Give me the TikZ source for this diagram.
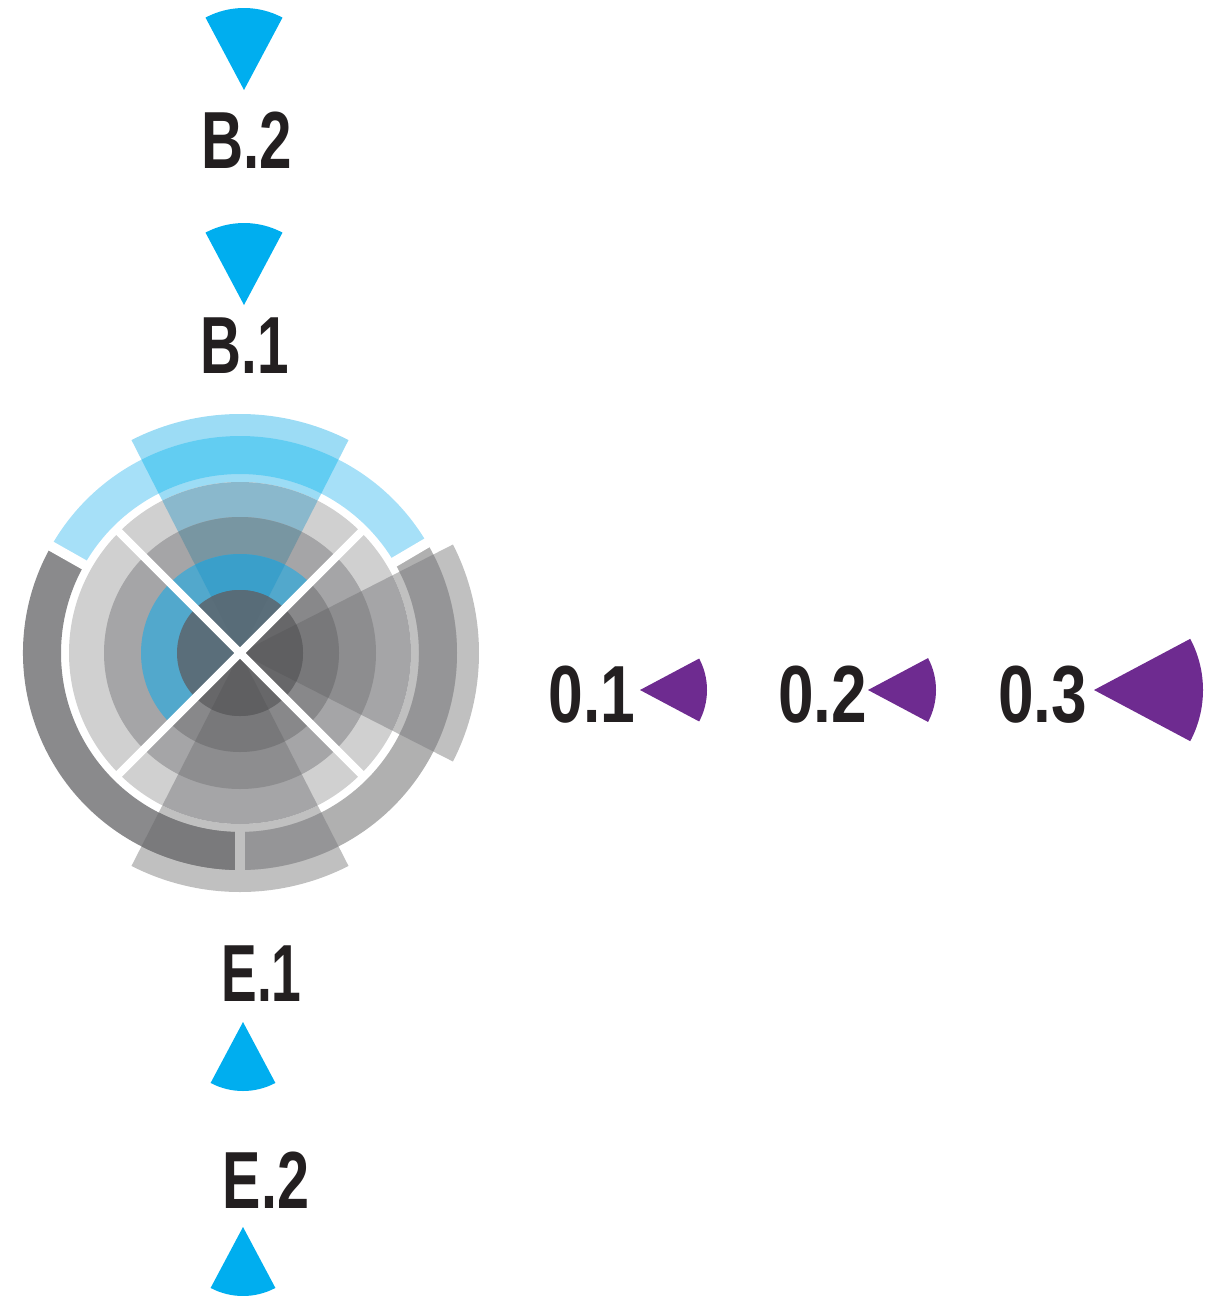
\documentclass[tikz,border=0pt]{standalone}
\usepackage{fontspec}
\setmainfont{Liberation Sans}
\definecolor{ink}{HTML}{231F20}
\definecolor{cyanw}{HTML}{00AEEF}
\definecolor{purp}{HTML}{6E2B90}
\definecolor{cyanlt}{HTML}{9CDCF5}
\definecolor{wgrey}{HTML}{C0C0C0}
\definecolor{bandblue}{HTML}{A6E0F8}
\definecolor{banddark}{HTML}{8A8A8C}
\definecolor{bandgrey}{HTML}{B0B0B0}
\definecolor{bandblueB}{HTML}{62CDF2}
\definecolor{bandgreyW}{HTML}{959597}
\definecolor{banddarkW}{HTML}{7A7A7C}
\definecolor{rThree}{HTML}{D0D0D0}
\definecolor{rThreeB}{HTML}{8AB8CC}
\definecolor{rThreeW}{HTML}{A5A5A7}
\definecolor{rTwo}{HTML}{A5A5A7}
\definecolor{rTwoB}{HTML}{7896A2}
\definecolor{rTwoW}{HTML}{8D8D8F}
\definecolor{rOneBlue}{HTML}{52A8CC}
\definecolor{rOneGrey}{HTML}{88888A}
\definecolor{rOneB}{HTML}{3A9FCA}
\definecolor{rOneW}{HTML}{78787A}
\definecolor{rZeroSlate}{HTML}{5A6E7A}
\definecolor{rZeroGrey}{HTML}{676769}
\definecolor{rZeroB}{HTML}{586C78}
\definecolor{rZeroW}{HTML}{5F5F61}
% annular sector: colour, inner r, outer r, start angle, end angle
\newcommand{\annsec}[5]{\fill[#1] (#4:#3) arc[start angle=#4,end angle=#5,radius=#3] -- (#5:#2) arc[start angle=#5,end angle=#4,radius=#2] -- cycle;}
% pie sector from the centre: colour, r, start, end
\newcommand{\piesec}[4]{\fill[#1] (0,0) -- (#3:#2) arc[start angle=#3,end angle=#4,radius=#2] -- cycle;}
% small wedge at a tip: colour, x, y, r, start, end
\newcommand{\wedgeat}[6]{\fill[#1] (#2,#3) -- ++(#5:#4) arc[start angle=#5,end angle=#6,radius=#4] -- cycle;}
\begin{document}
\begin{tikzpicture}[x=1pt,y=1pt,
  lbl/.style={text=ink,font=\fontsize{81}{81}\selectfont\bfseries,inner sep=0pt,anchor=base},
  gapline/.style={line width=10pt},
  xline/.style={white,line width=8pt}]
\useasboundingbox (0,0) rectangle (1208,-1296);
\begin{scope}[shift={(240,-653)}]
  % wedge extents beyond the rings
  \annsec{cyanlt}{171}{239}{63}{117}
  \annsec{wgrey}{171}{239}{-27}{27}
  \annsec{wgrey}{171}{239}{243}{297}
  % outer band
  \annsec{bandblue}{179}{217}{30}{150}
  \annsec{banddark}{179}{217}{150}{270}
  \annsec{bandgrey}{179}{217}{270}{390}
  \annsec{bandblueB}{179}{217}{63}{117}
  \annsec{bandgreyW}{179}{217}{-27}{27}
  \annsec{banddarkW}{179}{217}{243}{270}
  \annsec{bandgreyW}{179}{217}{270}{297}
  % gaps in the band
  \draw[gapline,white] (30.5:175) -- (30.5:221);
  \draw[gapline,white] (150.5:175) -- (150.5:221);
  \draw[gapline,wgrey] (270:175) -- (270:221);
  % ring 3
  \fill[rThree] (0,0) circle[radius=171];
  \piesec{rThreeB}{171}{63}{117}
  \piesec{rThreeW}{171}{-27}{27}
  \piesec{rThreeW}{171}{243}{297}
  % ring 2
  \fill[rTwo] (0,0) circle[radius=136];
  \piesec{rTwoB}{136}{63}{117}
  \piesec{rTwoW}{136}{-27}{27}
  \piesec{rTwoW}{136}{243}{297}
  % ring 1
  \piesec{rOneBlue}{99}{45}{225}
  \piesec{rOneGrey}{99}{225}{405}
  \piesec{rOneB}{99}{63}{117}
  \piesec{rOneW}{99}{-27}{27}
  \piesec{rOneW}{99}{243}{297}
  % inner disk
  \piesec{rZeroSlate}{63}{45}{225}
  \piesec{rZeroGrey}{63}{225}{405}
  \piesec{rZeroB}{63}{63}{117}
  \piesec{rZeroW}{63}{-27}{27}
  \piesec{rZeroW}{63}{243}{297}
  % white cross
  \foreach \a in {45,135,225,315} \draw[xline] (0,0) -- (\a:175);
\end{scope}
% small wedges
\wedgeat{cyanw}{244}{-90}{82}{62}{118}
\wedgeat{cyanw}{244}{-305}{82}{62}{118}
\wedgeat{cyanw}{243}{-1022}{69}{242}{298}
\wedgeat{cyanw}{243}{-1227}{69}{242}{298}
\wedgeat{purp}{640}{-690}{67}{-28}{28}
\wedgeat{purp}{868}{-690}{68}{-28}{28}
\wedgeat{purp}{1094}{-690}{109}{-28}{28}
% labels
\node[lbl] (b2) at (246.5,-168) {\scalebox{0.72}[1]{B.2}};
\node[lbl] (b1) at (245,-373) {\scalebox{0.70}[1]{B.1}};
\node[lbl] (e1) at (261.5,-1001) {\scalebox{0.66}[1]{E.1}};
\node[lbl] (e2) at (266,-1208) {\scalebox{0.71}[1]{E.2}};
\node[lbl] (o1) at (592,-722) {\scalebox{0.77}[1]{0.1}};
\node[lbl] (o2) at (822.5,-722) {\scalebox{0.79}[1]{0.2}};
\node[lbl] (o3) at (1042.5,-722) {\scalebox{0.79}[1]{0.3}};
\end{tikzpicture}
\end{document}
